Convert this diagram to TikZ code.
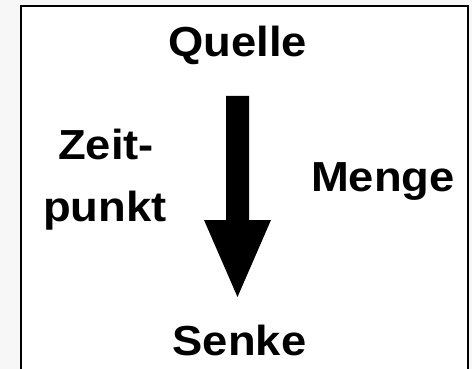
\documentclass[tikz,border=0pt]{standalone}
\usepackage{fontspec}
\setmainfont{Liberation Sans}
\definecolor{pagegray}{RGB}{247,247,247}
\tikzset{
  lbl/.style={inner sep=0pt, anchor=base, font=\bfseries\fontsize{42}{50}\selectfont},
  frame/.style={draw=black, line width=2.5pt, fill=white},
  bigarrow/.style={fill=black}
}
\newcommand{\wide}[1]{\scalebox{1.08}[1]{#1}}
\begin{document}
\begin{tikzpicture}[x=1pt,y=-1pt]
  \fill[pagegray] (0,0) rectangle (472,369);
  \useasboundingbox (0,0) rectangle (472,369);
  \draw[frame] (21,6) rectangle (468,380);
  % big arrow
  \coordinate (atop) at (237.5,96);
  \coordinate (atip) at (237.5,297);
  \fill[bigarrow] (226,96) -- (249,96) -- (249,220) -- (271,220) -- (atip) -- (204,220) -- (226,220) -- cycle;
  \node[lbl] (quelle) at (237.5,57) {\wide{Quelle}};
  \node[lbl] (zeit) at (106,159.5) {\wide{Zeit-}};
  \node[lbl] (punkt) at (105,221) {\wide{punkt}};
  \node[lbl] (menge) at (383,191) {\wide{Menge}};
  \node[lbl] (senke) at (239.5,355) {\wide{Senke}};
\end{tikzpicture}
\end{document}
